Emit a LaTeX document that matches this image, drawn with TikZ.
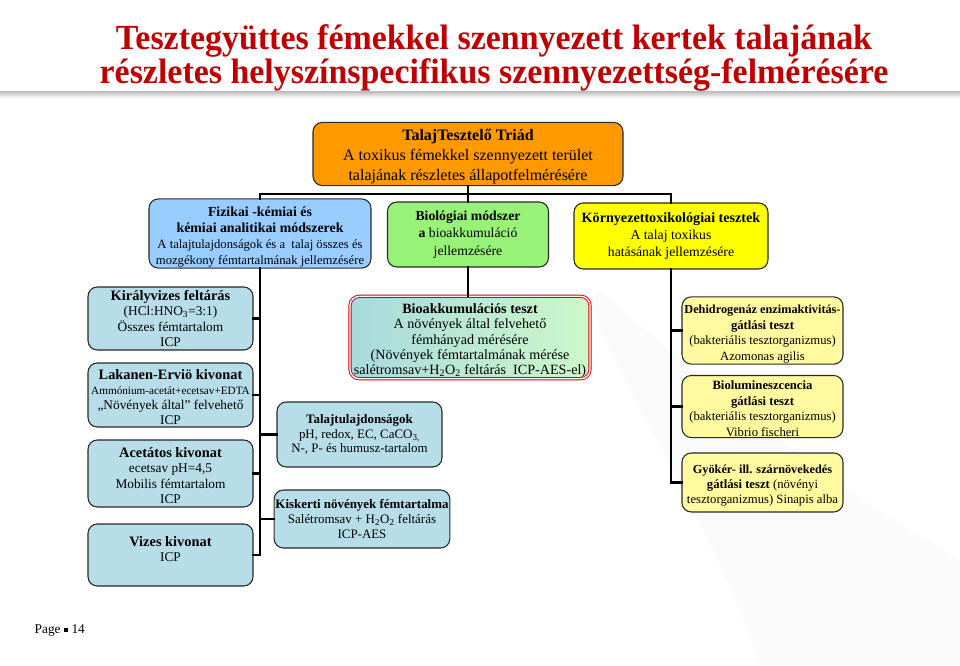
\documentclass[tikz,border=0pt]{standalone}
\usepackage{fontspec}
\setmainfont{Liberation Serif}
\definecolor{titlered}{RGB}{192,0,0}
\definecolor{boxorange}{RGB}{255,153,0}
\definecolor{boxblue}{RGB}{153,204,255}
\definecolor{boxgreen}{RGB}{153,242,120}
\definecolor{boxyellow}{RGB}{255,255,0}
\definecolor{lowblue}{RGB}{183,222,232}
\definecolor{lowyel}{RGB}{255,250,160}
\definecolor{bioleft}{RGB}{168,218,222}
\definecolor{bioright}{RGB}{205,248,200}
\definecolor{bordercol}{RGB}{40,40,40}
\newcommand\mytop[1]{\rule{0pt}{#1}}
\newcommand\mybot[1]{\rule[-#1]{0pt}{0pt}}
\newcommand\bfm[1]{{\fontsize{10.4}{12}\selectfont\bfseries #1}}
\newcommand\bfl[1]{{\fontsize{10.8}{11.4}\selectfont\bfseries #1}}
\tikzset{
  conn/.style={line width=2.2pt, black, line cap=rect},
  bx/.style={draw=bordercol, line width=0.8pt, rounded corners=7pt, align=center, inner sep=1pt},
  topbox/.style={bx, fill=boxorange, font=\fontsize{12}{15}\selectfont},
  midbox/.style={bx, font=\fontsize{9.5}{12}\selectfont},
  midboxb/.style={bx, font=\fontsize{10.3}{13}\selectfont},
  lowbox/.style={bx, fill=lowblue, font=\fontsize{10}{11.4}\selectfont},
  centbox/.style={bx, fill=lowblue, font=\fontsize{9.7}{11}\selectfont},
  rbox/.style={bx, fill=lowyel, font=\fontsize{9.5}{11.6}\selectfont},
  titletext/.style={font=\fontsize{26.5}{26.5}\selectfont\bfseries, text=titlered, inner sep=0pt},
}
\begin{document}
\begin{tikzpicture}[x=0.75pt,y=-0.75pt]
\useasboundingbox (0,0) rectangle (960,665);
\fill[white] (0,0) rectangle (960,665);
% faint background swoosh
\fill[gray!4] (588,300) .. controls (640,420) and (720,540) .. (760,665) -- (960,665) -- (960,560) .. controls (820,480) and (700,380) .. (600,290) -- cycle;
% title
\node[titletext, anchor=base] (t1) at (494,49) {\scalebox{0.96}[1]{Tesztegyüttes fémekkel szennyezett kertek talajának}};
\node[titletext, anchor=base] (t2) at (494,83) {\scalebox{0.96}[1]{részletes helyszínspecifikus szennyezettség-felmérésére}};
\shade[top color=gray!55, bottom color=white] (0,91) rectangle (960,98);

% top
\node[topbox, minimum width=232.5pt, minimum height=46.5pt] (top) at (468,154)
  {\mytop{12.8pt}\textbf{TalajTesztelő Triád}\\A toxikus fémekkel szennyezett terület\\talajának részletes állapotfelmérésére};
% level 2
\node[midbox, fill=boxblue, minimum width=166.5pt, minimum height=50.25pt] (fiz) at (260,233.5)
  {\mytop{11.8pt}\bfm{Fizikai -kémiai és}\\\bfm{kémiai analitikai módszerek}\\A talajtulajdonságok és a\ \ talaj összes és\\mozgékony fémtartalmának jellemzésére};
\node[midboxb, fill=boxgreen, minimum width=120.75pt, minimum height=48.75pt] (bio) at (468,234.5)
  {\textbf{Biológiai módszer}\\\textbf{a} bioakkumuláció\\jellemzésére};
\node[midboxb, fill=boxyellow, minimum width=145.5pt, minimum height=49.5pt] (korny) at (671,236)
  {{\fontsize{10.6}{13}\selectfont\bfseries Környezettoxikológiai tesztek}\\A talaj toxikus\\hatásának jellemzésére};

% left column
\node[lowbox, minimum width=123.75pt, minimum height=47.25pt] (kir) at (170.5,318.5)
  {\bfl{Királyvizes feltárás}\\(HCl:HNO\textsubscript{3}=3:1)\\Összes fémtartalom\\ICP};
\node[lowbox, minimum width=123.75pt, minimum height=48pt] (lak) at (170.5,395)
  {\mytop{10.5pt}\bfl{Lakanen-Erviö kivonat}\\{\fontsize{8.4}{10}\selectfont Ammónium-acetát+ecetsav+EDTA}\\„Növények által” felvehető\\ICP};
\node[lowbox, minimum width=123.75pt, minimum height=50.25pt] (ace) at (170.5,473.5)
  {\mytop{10.5pt}\bfl{Acetátos kivonat}\\ecetsav pH=4,5\\Mobilis fémtartalom\\ICP};
\node[lowbox, minimum width=123.75pt, minimum height=46.5pt] (viz) at (170.5,555)
  {\bfl{Vizes kivonat}\\ICP\mybot{9pt}};

% middle column
\node[bx, draw=red!85!black, double=white, double distance=1pt, line width=0.7pt,
      left color=bioleft, right color=bioright, font=\fontsize{10.6}{11.4}\selectfont,
      minimum width=180pt, minimum height=59.25pt] (bioak) at (470,337.5)
  {\mytop{12pt}\textbf{Bioakkumulációs teszt}\\A növények által felvehető\\fémhányad mérésére\\(Növények fémtartalmának mérése\\salétromsav+H\textsubscript{2}O\textsubscript{2} feltárás\ \ ICP-AES-el)};
\node[centbox, minimum width=123.75pt, minimum height=48.75pt] (tal) at (359.5,434.5)
  {\textbf{Talajtulajdonságok}\\pH, redox, EC, CaCO\textsubscript{3,}\\N-, P- és humusz-tartalom};
\node[centbox, minimum width=127.5pt, minimum height=43.5pt] (kis) at (362,519)
  {\textbf{Kiskerti növények fémtartalma}\\Salétromsav + H\textsubscript{2}O\textsubscript{2} feltárás\\ICP-AES};

% right column
\node[rbox, minimum width=120.75pt, minimum height=48.75pt] (deh) at (762.5,330.5)
  {\mytop{11.6pt}{\fontsize{9.2}{11.6}\selectfont\bfseries Dehidrogenáz enzimaktivitás-}\\\textbf{gátlási teszt}\\(bakteriális tesztorganizmus)\\Azomonas agilis};
\node[rbox, minimum width=120.75pt, minimum height=45.75pt] (biol) at (762.5,406.5)
  {\mytop{9.6pt}\textbf{Biolumineszcencia}\\\textbf{gátlási teszt}\\(bakteriális tesztorganizmus)\\Vibrio fischeri};
\node[rbox, minimum width=120.75pt, minimum height=44.25pt] (gyo) at (762.5,482.5)
  {\mytop{11pt}{\fontsize{9.2}{11.6}\selectfont\bfseries Gyökér- ill. szárnövekedés}\\\textbf{gátlási teszt} (növényi\\tesztorganizmus) Sinapis alba};

% connectors
\coordinate (hub) at (468,194);
\draw[conn] (top.south) -- (hub);
\draw[conn] (fiz.north) |- (hub) -| (korny.north);
\draw[conn] (bio.north) -- (bio.north |- hub);
\draw[conn] (fiz.south) -- (fiz.south |- viz.east) -- (viz.east);
\draw[conn] (kir.east) -- (kir.east -| fiz.south);
\draw[conn] (lak.east) -- (lak.east -| fiz.south);
\draw[conn] (ace.east) -- (ace.east -| fiz.south);
\draw[conn] (tal.west) -- (tal.west -| fiz.south);
\draw[conn] (kis.west) -- (kis.west -| fiz.south);
\draw[conn] (bio.south) -- (bio.south |- bioak.north);
\draw[conn] (korny.south) -- (korny.south |- gyo.west) -- (gyo.west);
\draw[conn] (deh.west) -- (deh.west -| korny.south);
\draw[conn] (biol.west) -- (biol.west -| korny.south);

% footer
\node[font=\fontsize{10}{12}\selectfont, anchor=west] (page) at (30,631) {Page \raisebox{1.5pt}{\rule{3.2pt}{3.2pt}} 14};
\end{tikzpicture}
\end{document}
